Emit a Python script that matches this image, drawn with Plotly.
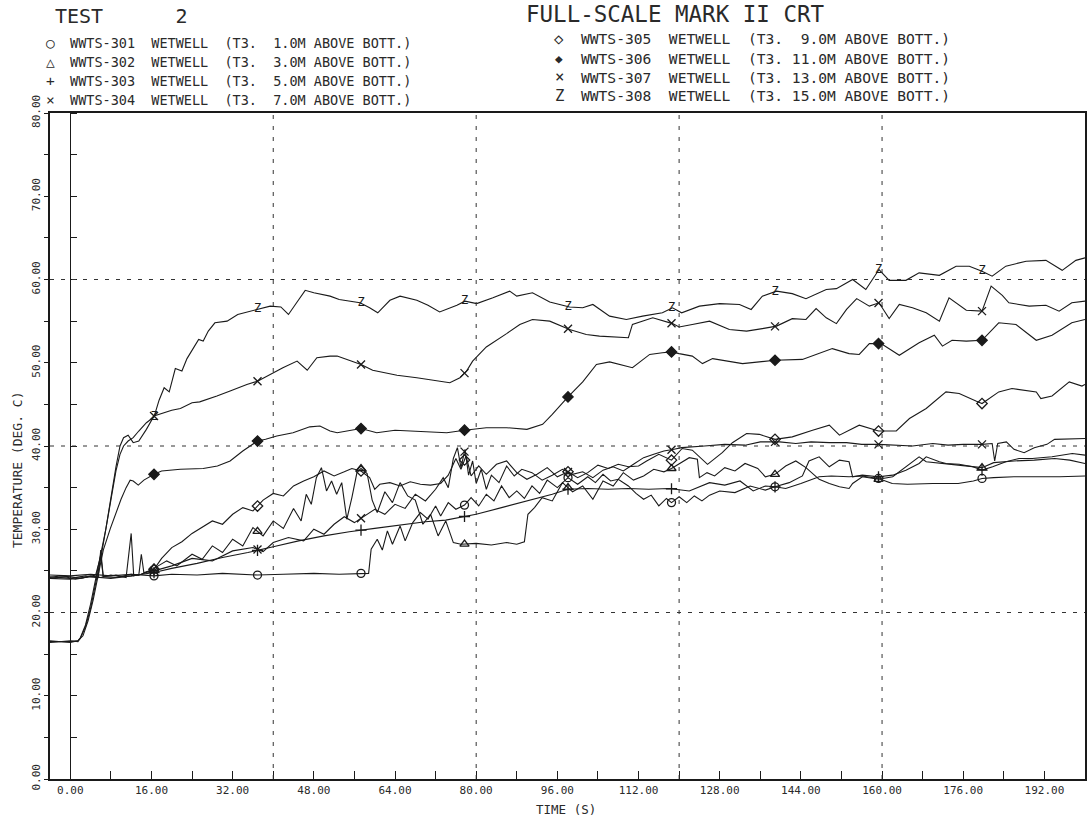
import numpy as np
import plotly.graph_objects as go

# ---------------- data ----------------
x_tick_vals = [0, 16, 32, 48, 64, 80, 96, 112, 128, 144, 160, 176, 192]
x_tick_text = ["0.00", "16.00", "32.00", "48.00", "64.00", "80.00", "96.00",
               "112.00", "128.00", "144.00", "160.00", "176.00", "192.00"]
y_tick_vals = [0, 10, 20, 30, 40, 50, 60, 70, 80]
y_tick_text = ["0.00", "10.00", "20.00", "30.00", "40.00", "50.00", "60.00", "70.00", "80.00"]
x_grid = [40, 80, 120, 160]
y_grid = [20, 40, 60]
marker_t = [16.5, 36.9, 57.3, 77.7, 98.1, 118.5, 138.9, 159.3, 179.7]

t_301 = [-4, 0, 4, 8, 12, 16.5, 20, 25, 30, 36.9, 42, 48, 53, 57.3, 58.8, 59.3, 60.5, 61.5, 62.5, 63.5,
         65, 66, 67.5, 69, 70.5, 72, 73, 74.5, 76, 77.7, 79, 80.5, 82, 83.5, 85, 86.5, 88, 89.5, 91, 92.5,
         94, 96, 98.1, 100, 102, 103.5, 105, 106.5, 108, 110, 111.5, 113, 114.5, 116, 117.5, 118.5, 120, 121.5, 123, 124.5,
         126, 128, 131, 134, 137, 138.9, 141, 144, 147.6, 150, 153.5, 156, 159.3, 162, 165, 170, 175, 178, 179.7, 182,
         186, 190, 195, 200]
v_301 = [24.5, 24.4, 24.6, 24.4, 24.6, 24.4, 24.6, 24.5, 24.7, 24.5, 24.6, 24.7, 24.6, 24.7, 24.7, 27.6, 28.8, 27.5, 29.8, 28.2,
         30.4, 28.6, 30.8, 32, 31.2, 32.8, 31.6, 33.2, 32.4, 32.9, 33.8, 32.8, 34.2, 33.4, 35.2, 33.8, 34.6, 33.7, 35.2, 34.3,
         35.9, 35, 36.2, 35.4, 36.3, 35.6, 36.6, 35.8, 36, 35.2, 34.3, 33.6, 34.1, 32.8, 33.7, 33.2, 33.9, 33.2, 34, 33.4,
         34.1, 34.6, 34.4, 35.2, 34.7, 35.1, 34.9, 35.5, 36.3, 36.4, 36.3, 36.4, 36.1, 35.5, 35.4, 35.5, 35.5, 35.8, 36.1, 36.2,
         36.3, 36.3, 36.3, 36.4]

t_302 = [-4, 0, 3, 5.5, 6, 6.5, 9, 11, 12, 12.5, 14, 16.5, 19, 21, 24, 26, 28, 30, 32, 34,
         36, 38, 40, 42, 44, 45.5, 46.5, 47.5, 48.5, 49.5, 50.5, 51.5, 52.5, 53.5, 54.5, 55.5, 56.5, 57.3, 58.5, 59.5,
         60.5, 62, 63.5, 65, 66.5, 68, 69.5, 71, 72.5, 74, 75.5, 77, 80, 83, 86, 88, 89.5, 90.2, 91.5, 93,
         95, 97, 99, 101, 103, 105, 107, 109, 111, 113, 115, 117, 118.5, 120.5, 122, 123.6, 124, 125.5, 127, 129,
         131, 133, 135.5, 137, 138.9, 141, 143, 145, 147.6, 149.6, 151.6, 153.5, 154.2, 156.1, 159.3, 162.1, 164.7, 167.3, 168.7, 171.3,
         175, 179.7, 182, 186, 190, 194, 197, 200]
v_302 = [24.3, 24.1, 24.4, 24.2, 27.5, 24.3, 24.5, 24.2, 29.5, 24.4, 24.6, 25.3, 26.2, 25.6, 27, 26.4, 28, 27.2, 28.8, 28,
         30.2, 29.2, 31, 30.1, 32.5, 31, 34.2, 33, 36.2, 37.4, 34.6, 35.8, 34.2, 35.6, 31.2, 33.8, 36.8, 37.3, 36.7, 33.5,
         32, 34.5, 33.2, 35.6, 34, 33.5, 30.6, 31.8, 29.2, 31, 28.4, 28.2, 28.3, 28.1, 28.4, 28.2, 28.5, 31.8, 32.6, 33.8,
         33.4, 35.6, 34.5, 35.2, 33.6, 35.8, 35.2, 36.8, 35.9, 36.4, 37.2, 36.9, 37.3, 38, 38.6, 38.4, 36.2, 36.8, 36.4, 37.4,
         37, 37.9, 37.3, 36.3, 36.6, 37.6, 38.2, 37.4, 36, 35.5, 35.1, 34.9, 35.5, 36.3, 36, 36.3, 37.5, 38.7, 38.1, 37.9,
         37.7, 37.4, 38, 38.2, 38.3, 38.5, 38.3, 37.9]

t_303 = [-4, 0, 4, 8, 12, 16.5, 20, 25, 30, 35, 40, 45, 50, 55, 60, 65, 70, 74, 80, 85,
         91, 95, 98, 102, 106, 110, 114, 118, 122, 126, 129, 132, 134.6, 137, 138.9, 141.7, 144.3, 145.6, 147.6, 149.6,
         151.6, 153.5, 154.2, 156.1, 159.3, 162.1, 164.7, 167.3, 168.7, 171.3, 172.6, 175.2, 177.9, 179.7, 181.8, 184.4, 187, 189.6, 193.5, 197.5,
         200]
v_303 = [24.1, 24, 24.3, 24.1, 24.4, 24.8, 25.3, 25.9, 26.6, 27.2, 27.9, 28.6, 29.2, 29.7, 30.1, 30.5, 30.9, 31.1, 31.8, 32.6,
         33.6, 34.2, 34.8, 34.9, 34.8, 34.9, 34.8, 34.9, 34.6, 35.6, 35.3, 35.8, 34.6, 35.2, 35.1, 35.6, 36.4, 38.2, 38.7, 37.5,
         38.3, 38.1, 36.3, 36.5, 36.3, 36.5, 37.1, 37.9, 38.7, 38.1, 37.9, 37.8, 37.5, 37.1, 37.5, 38.1, 38.5, 38.5, 38.7, 39.1,
         38.9]

t_304 = [-4, -1, 1, 3, 5, 6, 6.5, 9, 12, 13.5, 14, 14.5, 16.5, 20, 24, 28, 32, 36, 38, 40,
         43, 46, 48, 50, 52, 54, 56, 58, 60, 62, 64, 66, 68, 70, 72, 73.5, 74.5, 75.5, 76.3, 77,
         77.8, 78.5, 79.3, 80, 81, 82, 83, 84.5, 86, 87.5, 89, 91, 93, 95, 97, 99, 101, 103, 105, 107,
         109, 111, 113, 115, 117, 119, 120.5, 125, 129, 133, 136, 139.8, 143, 146, 149.6, 153, 156, 159.4, 163, 166,
         170, 173, 176, 179.7, 181.7, 182.2, 182.8, 184.5, 186, 188, 190, 192.5, 194, 200]
v_304 = [24.1, 24.3, 24, 24.2, 24.5, 26.8, 24.3, 24.2, 24.6, 24.5, 27, 24.8, 25, 25.6, 26.5, 26.2, 27.4, 27.8, 27.3, 28.4,
         29, 28.6, 30, 29.4, 30.6, 31.5, 30.8, 31.6, 32.4, 31.8, 33, 32.5, 34.2, 33.4, 34.8, 36.2, 35, 38.5, 39.8, 37.4,
         39.6, 36.5, 38.2, 35.5, 37.2, 34.8, 36.5, 35.6, 37.6, 36.4, 37.2, 36.8, 35.9, 36.5, 37.2, 36.6, 36.9, 36.2, 37.1, 37.5,
         37, 37.8, 38.6, 39, 39.4, 39.6, 39.8, 40, 40.2, 40.1, 40.5, 40.5, 40.3, 40.5, 40.4, 40.4, 40.2, 40.2, 40.1, 40,
         40.3, 40.1, 40.2, 40.2, 40.3, 38.2, 40.3, 40.5, 39.6, 39.2, 39.8, 40.2, 40.8, 40.9]

t_305 = [-4, -2, 0, 2, 4, 6, 8, 10, 12, 14, 16.5, 18, 20, 22, 24, 26, 28, 30, 32, 34,
         36, 38, 40, 42, 44, 46, 48, 50, 52, 54, 55.5, 57.3, 59, 60, 61, 63, 65, 67, 69, 71,
         73, 74.5, 76, 77, 78, 79, 80.5, 82, 84, 86, 88, 90, 92, 94, 96, 98.1, 100, 102, 104, 106,
         108, 110, 112, 113.6, 116, 118.5, 120.6, 122.6, 125.6, 128.5, 130.5, 133.3, 135.8, 138.9, 142.3, 146.3, 149.6, 151.6, 155.5, 159.3,
         162.8, 165.4, 168.7, 172.6, 175.2, 178.5, 179.7, 183, 185.6, 190.4, 191.3, 193.5, 196.9, 199.4, 200]
v_305 = [24.2, 24.4, 24.3, 24.1, 24.4, 24.2, 24.5, 24.3, 24.4, 24.6, 25.2, 26.5, 27.8, 28.5, 29.5, 30.3, 31, 30.6, 31.8, 32.6,
         32.2, 33.5, 34.3, 34, 35.2, 35.8, 36.3, 37, 36.4, 36.9, 37.3, 37, 36.2, 34.8, 35.4, 35.6, 35.2, 35.7, 35.4, 35.3,
         35.5, 36.5, 38.5, 37.2, 38.8, 36.4, 37.6, 36.6, 37.8, 38.2, 36.8, 36, 36.6, 37.4, 36.3, 36.9, 36.2, 36.8, 37.7, 37.3,
         37.8, 37.5, 37.6, 38.2, 39, 38.3, 39.7, 39.5, 37.8, 39.2, 40.4, 41.5, 41.4, 40.8, 41.1, 41.9, 42.5, 41.3, 42.5, 41.8,
         41.8, 43.3, 44.5, 46.5, 46.3, 45.4, 45.1, 46.5, 46.9, 46.5, 45.7, 46, 47.7, 47.2, 47.4]

t_306 = [-4, 0, 1.5, 2.5, 3.5, 4.5, 5.5, 6.5, 7.9, 9, 10, 11, 11.8, 12.4, 13.4, 14.5, 16.5, 18, 21.7, 26.2,
         29, 31.5, 34, 36.9, 38.5, 40.7, 43.9, 47.2, 49.2, 51.2, 52.6, 57.3, 60.4, 64, 68.3, 74.2, 77.7, 82, 86, 90,
         93.1, 95, 98.1, 101, 103.7, 106.3, 110.8, 114.2, 116.7, 118.5, 120, 122.6, 124.6, 126.6, 132.5, 138.9, 144.3, 147.6, 150.2, 153.5,
         155.5, 157.5, 159.8, 163.4, 167.3, 170.3, 171.9, 173.8, 176.6, 179.7, 183, 186.4, 190.4, 193.5, 197.4, 200]
v_306 = [16.5, 16.5, 16.6, 17.2, 19, 21.5, 24.5, 27.5, 30.1, 32, 33.6, 35, 35.9, 35.8, 35.3, 35.9, 36.6, 37, 37.2, 37.3,
         37.6, 38.2, 39.4, 40.6, 40.8, 41.2, 41.6, 42.3, 42.4, 41.8, 41.6, 42.1, 41.6, 41.9, 41.8, 41.6, 41.9, 42.2, 42.2, 42,
         42.6, 43.8, 45.9, 47.7, 49.8, 50.1, 49.4, 51, 51.2, 51.3, 51.1, 50.8, 49.9, 50.5, 49.9, 50.3, 50.4, 51.1, 51.7, 51.1,
         51, 52.3, 52.3, 50.9, 52.4, 53.3, 52, 52.7, 52.6, 52.7, 54.8, 54.6, 52.7, 53.3, 54.8, 55.2]

t_307 = [-4, 0, 1.5, 2, 3, 4, 5, 6, 7, 8, 9, 9.8, 10.5, 11.4, 12.4, 13.5, 15, 16.5, 18, 20,
         21.7, 24, 25.5, 27, 28.9, 31.5, 34.8, 37, 39.4, 41.9, 44.7, 46.7, 48.6, 51.2, 52.6, 55.7, 57.3, 59.6, 64.4, 68.3,
         72.8, 74.8, 76.8, 78.1, 79.3, 82, 86, 88.6, 91.1, 94.5, 98.4, 101.7, 104.3, 108.3, 110, 110.8, 114.8, 118.7, 120, 122.6,
         126, 129.9, 133.3, 136.4, 139.2, 142.3, 145, 147, 149, 151, 153, 155, 157.5, 159.4, 161.4, 163.4, 166, 168.7, 171.3, 173.2,
         176.6, 179.7, 181.5, 183.7, 185, 189, 192.3, 194.9, 197.4, 200]
v_307 = [16.4, 16.6, 16.5, 16.9, 18.3, 20.5, 23.5, 26.5, 30, 34, 37.5, 40, 41, 41.3, 40.4, 40.6, 42, 43.6, 43.9, 44.3,
         44.5, 45.2, 45.3, 45.6, 46, 46.6, 47.4, 47.8, 48.6, 49.4, 50.2, 49.1, 50.6, 50.8, 50.8, 50.2, 49.8, 49.1, 48.5, 48.2,
         47.8, 47.6, 48.2, 49, 50.2, 51.9, 53.5, 54.6, 55.2, 55, 54, 53.4, 53.2, 53, 53, 54.6, 55.4, 54.7, 54.3, 54.6,
         55, 54, 53.8, 54.1, 54.4, 55.3, 55.2, 56.5, 55.4, 54.7, 56.4, 57.7, 56.8, 57.2, 55.3, 57, 56.6, 56, 55, 57.8,
         56.3, 56.2, 59.2, 58.1, 57.2, 56.8, 56.9, 56.2, 57.2, 57.4]

t_308 = [-4, 0, 1.5, 2, 3, 4, 5, 6, 7, 8, 9, 9.8, 10.5, 11.4, 12.4, 13.5, 15, 16.5, 17.5, 18.5,
         19.5, 20.7, 22, 23, 24.2, 25.3, 26.2, 27.2, 28.5, 30.9, 33, 35.4, 37.4, 39.4, 41.5, 43, 44.6, 46.3, 48, 51.2,
         53, 55, 57.1, 59, 60.6, 63, 65, 68.3, 70.5, 72.8, 76.2, 77.8, 80.1, 83.3, 86.6, 88, 91.1, 94.5, 98.4, 101,
         103, 106.3, 109.6, 112.8, 116.7, 118.7, 120.5, 124, 128, 131.9, 134.2, 136.4, 139.2, 142.3, 145, 149, 151, 154.2, 156.8, 159.4,
         161.4, 164.7, 167.3, 171.3, 174.6, 177.2, 179.7, 181.7, 184.4, 188.4, 192.3, 195.5, 198.2, 200]
v_308 = [16.6, 16.4, 16.6, 17, 18.5, 21, 24, 27, 30, 33.5, 37, 39, 40, 40.6, 41, 41.8, 42.8, 43.5, 45.5, 47,
         46.5, 49.3, 49, 50.5, 51.7, 52.8, 52.6, 53.8, 54.8, 55, 55.8, 56.2, 56.5, 56.8, 56.7, 55.8, 57.2, 58.7, 58.4, 58,
         57.6, 57.4, 57.2, 56.6, 56, 57.5, 58, 57.5, 56.9, 56.1, 56.9, 57.4, 57.1, 57.8, 58.6, 58, 58.4, 57.3, 56.7, 56.6,
         57, 55.6, 55.2, 55.6, 56, 56.6, 56, 56.8, 57.1, 57, 56.4, 58, 58.6, 58.3, 57.7, 58.8, 58.9, 60, 58.8, 61.2,
         59.9, 59.9, 60.8, 60.5, 61.6, 61.6, 61, 60.4, 61.6, 62.2, 62.3, 61.1, 62.3, 62.6]

series = [
    ("WWTS-301", t_301, v_301, "circle-open", "○", " 1.0M"),
    ("WWTS-302", t_302, v_302, "triangle-up-open", "△", " 3.0M"),
    ("WWTS-303", t_303, v_303, "cross-thin-open", "+", " 5.0M"),
    ("WWTS-304", t_304, v_304, "x-thin-open", "×", " 7.0M"),
    ("WWTS-305", t_305, v_305, "diamond-open", "◇", " 9.0M"),
    ("WWTS-306", t_306, v_306, "diamond", "◆", "11.0M"),
    ("WWTS-307", t_307, v_307, "x-thin-open", "×", "13.0M"),
    ("WWTS-308", t_308, v_308, "Z", "Z", "15.0M"),
]

# ---------------- figure ----------------
W, H = 1089, 822
ML, MR, MT, MB = 50, 2, 113, 43
PW, PH = W - ML - MR, H - MT - MB
MONO = "DejaVu Sans Mono"
INK = "#1a1a1a"


def px(x):
    return (x - ML) / PW


def py(y):
    return (H - MB - y) / PH


fig = go.Figure()

for name, t, v, sym, glyph, elev in series:
    fig.add_trace(go.Scatter(x=t, y=v, mode="lines", name=name,
                             line=dict(color=INK, width=1.1), showlegend=False,
                             hoverinfo="skip"))
    my = np.interp(marker_t, t, v)
    if sym == "Z":
        fig.add_trace(go.Scatter(x=marker_t, y=my, mode="text", text=["Z"] * len(marker_t),
                                 textfont=dict(family=MONO, size=12, color=INK),
                                 showlegend=False, hoverinfo="skip"))
    else:
        fig.add_trace(go.Scatter(x=marker_t, y=my, mode="markers", showlegend=False,
                                 hoverinfo="skip",
                                 marker=dict(symbol=sym, size=8, color=INK,
                                             line=dict(color=INK, width=1.3))))

# helper trace so that the x=0 axis (y2) is drawn
fig.add_trace(go.Scatter(x=[], y=[], yaxis="y2", showlegend=False))

shapes = []
for gx in x_grid:
    shapes.append(dict(type="line", xref="x", yref="paper", x0=gx, x1=gx, y0=0, y1=1,
                       line=dict(color="#333", width=1, dash="4px,7px")))
for gy in y_grid:
    shapes.append(dict(type="line", xref="paper", yref="y", x0=0, x1=1, y0=gy, y1=gy,
                       line=dict(color="#333", width=1, dash="4px,7px")))

ann = []
tf = dict(family=MONO, color="#2a2a2a")
ann.append(dict(x=px(53), y=py(16), xref="paper", yref="paper", xanchor="left", yanchor="middle",
                text="TEST      2", showarrow=False, font=dict(tf, size=20)))
ann.append(dict(x=px(525), y=py(14), xref="paper", yref="paper", xanchor="left", yanchor="middle",
                text="FULL-SCALE MARK II CRT", showarrow=False, font=dict(tf, size=22.5)))
left_rows = [43, 62, 81, 100]
right_rows = [39, 58, 77, 96]
for i, (name, t, v, sym, glyph, elev) in enumerate(series):
    if i < 4:
        sx, tx, yy, fs = 50, 68, left_rows[i], 13.5
    else:
        sx, tx, yy, fs = 560, 580, right_rows[i - 4], 14.6
    gsize = fs - 2 if glyph == "◆" else fs + 1
    ann.append(dict(x=px(sx), y=py(yy), xref="paper", yref="paper", xanchor="center", yanchor="middle",
                    text=glyph, showarrow=False, font=dict(tf, size=gsize)))
    ann.append(dict(x=px(tx), y=py(yy), xref="paper", yref="paper", xanchor="left", yanchor="middle",
                    text=f"{name}  WETWELL  (T3. {elev} ABOVE BOTT.)".replace(" ", "&nbsp;"),
                    showarrow=False, font=dict(tf, size=fs)))

ann.append(dict(x=px(567), y=py(810), xref="paper", yref="paper", xanchor="center", yanchor="middle",
                text="TIME (S)", showarrow=False, font=dict(tf, size=12.5)))
ann.append(dict(x=px(17), y=py(470), xref="paper", yref="paper", xanchor="center", yanchor="middle",
                text="TEMPERATURE (DEG. C)", textangle=-90, showarrow=False, font=dict(tf, size=13)))

tickfont = dict(family=MONO, size=11, color="#2a2a2a")
fig.update_layout(
    width=W, height=H,
    margin=dict(l=ML, r=MR, t=MT, b=MB, pad=0),
    paper_bgcolor="white", plot_bgcolor="white",
    showlegend=False,
    shapes=shapes,
    annotations=ann,
    xaxis=dict(range=[-4, 200], tickmode="array", tickvals=x_tick_vals, ticktext=x_tick_text,
               ticks="inside", ticklen=8, tickwidth=1, tickcolor=INK,
               minor=dict(tickmode="linear", tick0=0, dtick=8, ticks="inside", ticklen=8,
                          tickcolor=INK, showgrid=False),
               showline=True, linecolor=INK, linewidth=1.5, mirror=True,
               showgrid=False, zeroline=False, tickfont=tickfont),
    yaxis=dict(range=[0, 80], tickmode="array", tickvals=y_tick_vals, ticktext=y_tick_text,
               tickangle=-90, ticks="outside", ticklen=4, tickcolor=INK,
               minor=dict(tickmode="linear", tick0=0, dtick=5, ticks="outside", ticklen=4,
                          tickcolor=INK, showgrid=False),
               showline=True, linecolor=INK, linewidth=1.5, mirror=True,
               showgrid=False, zeroline=False, tickfont=tickfont),
    yaxis2=dict(range=[0, 80], overlaying="y", anchor="free", position=4 / 204, side="right",
                showline=True, linecolor=INK, linewidth=1.3, ticks="outside", ticklen=6,
                tickmode="linear", tick0=0, dtick=5, tickcolor=INK,
                showticklabels=False, showgrid=False, zeroline=False),
)

fig.write_html("out.html")
